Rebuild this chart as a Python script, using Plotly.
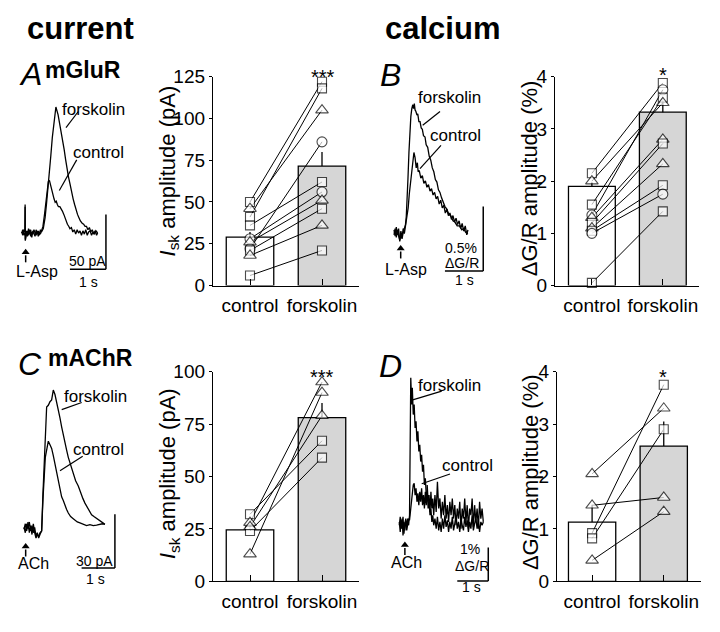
import plotly.graph_objects as go

W, H = 720, 632
FONT = "Liberation Sans, Arial, Helvetica, sans-serif"

# ------------------------------------------------------------------ data
CATS = ["control", "forskolin"]

# Panel A bar chart: mGluR, I_sk amplitude (pA)
A_BAR = [29, 71.5]
A_ERR = [3, 8.5]
A_CTRL = [50, 41, 46, 22, 28, 36, 26, 21, 18, 6]
A_FSK = [122, 118, 105, 86, 56, 62, 51, 46, 36, 21]
A_SYM = ["square", "square", "triangle-up", "circle", "circle",
         "square", "triangle-up", "square", "triangle-up", "square"]

# Panel B bar chart: mGluR, dG/R amplitude (%)
B_BAR = [1.9, 3.32]
B_ERR = [0.08, 0.25]
B_CTRL = [2.15, 1.35, 1.55, 2.0, 1.3, 1.2, 1.1, 1.05, 1.0, 0.05]
B_FSK = [3.88, 3.75, 3.6, 3.5, 2.8, 2.72, 2.33, 1.92, 1.75, 1.42]
B_SYM = ["square", "circle", "square", "triangle-up", "triangle-up",
         "square", "triangle-up", "square", "circle", "square"]

# Panel C bar chart: mAChR, I_sk amplitude (pA)
C_BAR = [24.5, 78]
C_ERR = [3, 7]
C_CTRL = [32, 24, 28, 26, 13]
C_FSK = [67, 59, 95, 79, 90]
C_SYM = ["square", "square", "triangle-up", "triangle-up", "triangle-up"]

# Panel D bar chart: mAChR, dG/R amplitude (%)
D_BAR = [1.13, 2.58]
D_ERR = [0.33, 0.47]
D_CTRL = [2.05, 1.45, 0.92, 0.82, 0.4]
D_FSK = [3.3, 1.6, 3.75, 2.9, 1.33]
D_SYM = ["triangle-up", "triangle-up", "square", "square", "triangle-up"]

# Example traces (time in s, current in pA or dG/R in %)
A_T_FSK = [0, .03, .06, .09, .095, .10, .13, .16, .19, .22, .25, .28, .31, .34, .37, .40,
           .43, .46, .49, .52, .55, .60, .65, .69, .73, .77, .81, .85, .90, .95, 1.01,
           1.05, 1.09, 1.13, 1.18, 1.22, 1.26, 1.30, 1.34, 1.38, 1.43, 1.47, 1.51, 1.55,
           1.59, 1.63, 1.68, 1.72, 1.76, 1.80, 1.84, 1.88, 1.92, 1.96, 2.00, 2.04, 2.08, 2.11]
A_I_FSK = [0, 3, -2, 0, 26, -6, 2, -3, 4, -1, 3, -4, 2, 0, -3, 3,
           -1, 2, -2, 3, 1, 4, 14, 27, 40, 56, 71, 87, 102, 115, 108,
           101, 93, 85, 76, 67, 58, 51, 45, 38, 31, 26, 21, 17,
           14, 11, 9, 8, 6, 6, 3, 5, 1, 3, -1, 2, -2, 0]
A_T_CTL = [0, .03, .06, .09, .095, .10, .13, .16, .19, .22, .25, .28, .31, .34, .37, .40,
           .43, .46, .49, .52, .55, .59, .63, .67, .71, .74, .77, .80, .83, .87, .90,
           .93, .96, .99, 1.02, 1.06, 1.10, 1.13, 1.17, 1.20, 1.24, 1.27, 1.31, 1.34,
           1.38, 1.42, 1.46, 1.50, 1.54, 1.58, 1.62, 1.66, 1.70, 1.74, 1.78, 1.82, 1.86,
           1.90, 1.94, 1.98, 2.02, 2.06, 2.11]
A_I_CTL = [1, -2, 3, 1, 24, -7, -1, 2, -2, 3, -3, 1, -1, 3, 0, -2,
           2, -3, 1, -1, 2, 6, 16, 28, 40, 47, 48, 44, 38, 33, 31,
           28, 29, 26, 24, 24, 22, 20, 17, 14, 11, 8, 6, 4,
           5, 1, 3, -1, 3, 0, 2, -2, 2, -1, 3, -2, 1,
           2, -2, 1, -1, 2, 0]

B_T_FSK = [0, .03, .06, .09, .12, .15, .18, .21, .24, .27, .30, .32, .34, .365, .39,
           .415, .44, .465, .49, .51, .53, .55, .57, .60, .62, .65, .68, .71, .74, .77,
           .81, .84, .88, .92, .96, 1.00, 1.04, 1.08, 1.12, 1.16, 1.20, 1.24, 1.28, 1.33,
           1.38, 1.43, 1.48, 1.54, 1.59, 1.65, 1.71, 1.77, 1.82, 1.87, 1.93]
B_V_FSK = [.02, -.03, .04, -.02, .03, -.07, -.02, -.05, 0, .03, .06, .12, .23, .42, .62,
           .78, .90, .96, .99, .96, 1.0, .95, .94, .91, .92, .86, .86, .81, .80, .75,
           .74, .68, .66, .59, .56, .50, .47, .41, .39, .33, .31, .27, .24, .20,
           .18, .14, .13, .09, .08, .05, .05, .02, .03, 0, -.01]
B_T_CTL = [0, .03, .06, .09, .12, .15, .18, .21, .24, .27, .30, .33, .37, .40, .44,
           .47, .50, .52, .55, .58, .61, .63, .66, .70, .74, .78, .82, .86, .90, .94,
           .98, 1.02, 1.06, 1.10, 1.14, 1.18, 1.22, 1.26, 1.30, 1.34, 1.38, 1.42, 1.46,
           1.50, 1.54, 1.58, 1.62, 1.66, 1.70, 1.74, 1.78, 1.82, 1.86, 1.90, 1.93]
B_V_CTL = [-.02, .03, -.04, .02, -.03, -.06, .01, -.04, .03, -.01, .05, .10, .19, .30, .41,
           .50, .53, .62, .58, .50, .54, .47, .48, .42, .44, .38, .40, .35, .37, .32,
           .34, .29, .31, .26, .28, .22, .25, .19, .21, .15, .18, .13, .15,
           .10, .13, .08, .11, .06, .09, .03, .07, .01, .05, -.02, .02]

C_T_FSK = [0, .04, .08, .12, .16, .20, .24, .28, .32, .36, .40, .44, .48, .53, .57,
           .60, .64, .68, .73, .78, .83, .88, .93, .98, 1.03, 1.08, 1.13, 1.18, 1.23,
           1.28, 1.33, 1.38, 1.43, 1.48, 1.55, 1.63, 1.70, 1.77, 1.83, 1.90, 1.97, 2.03,
           2.10, 2.17, 2.23, 2.30, 2.37, 2.43]
C_I_FSK = [0, 3, -1, 4, -2, 2, -3, 3, -2, -5, -3, -4, -2, -1, 20,
           36, 55, 68, 69, 71, 72, 77.5, 75, 71, 67, 62, 57, 52, 48,
           44, 40, 37, 34, 31, 27, 24, 20, 17, 14.5, 12, 10, 8,
           7, 6, 5, 4, 3.5, 2.7]
C_T_CTL = [0, .04, .08, .12, .16, .20, .24, .28, .32, .36, .40, .44, .48, .53, .57,
           .60, .64, .68, .73, .78, .83, .88, .93, .98, 1.03, 1.08, 1.13, 1.18, 1.23,
           1.28, 1.33, 1.40, 1.47, 1.53, 1.60, 1.68, 1.78, 1.88, 1.98, 2.08, 2.18, 2.28,
           2.35, 2.43]
C_I_CTL = [1, -2, 3, 0, 4, -1, 2, -2, 1, -4, -2, -5, -3, -1, 17,
           31, 40, 44, 49, 47, 45, 41, 36, 31, 26, 22, 18, 16, 13,
           11, 9, 7, 6, 5, 4, 3.5, 2.7, 2, 2.5, 2, 2.2, 2.5,
           3, 2.7]

D_T = [0, .03, .06, .09, .12, .15, .18, .21, .24, .27, .30, .33, .37, .40, .42, .45, .48,
       .51, .54, .57, .60, .63, .66, .69, .72, .75, .78, .81, .84, .87, .90, .93,
       .96, .99, 1.02, 1.05, 1.08, 1.11, 1.15, 1.19, 1.23, 1.27, 1.31, 1.35, 1.39, 1.43,
       1.47, 1.51, 1.55, 1.59, 1.63, 1.67, 1.71, 1.75, 1.79, 1.83, 1.87, 1.91, 1.95,
       1.99, 2.03, 2.07, 2.11, 2.15, 2.19, 2.23, 2.27, 2.31, 2.35, 2.39, 2.43, 2.47,
       2.51, 2.55, 2.59, 2.63, 2.67, 2.71]
D_V_FSK = [0.0, 0.25, -0.1, 0.2, -0.3, 0.1, -0.15, 0.15, -0.05, 0.2, 0.0, 0.3,
           4.4, 3.6, 4.1, 3.3, 3.6, 2.9, 3.1, 2.5, 2.8, 2.2, 2.4, 1.9, 2.1, 1.6, 1.8,
           1.2, 1.4, 0.9, 1.0, 0.5, 0.7, 0.3, 0.5, 0.1, 0.3, 0.0, 0.2, -0.1, 0.25, -0.15,
           0.1, -0.2, 0.2, -0.1, 0.3, -0.05, 0.15, -0.2, 0.1, -0.1, 0.25, -0.15, 0.05,
           0.3, -0.1, 0.1, -0.2, 0.2, 0.0, -0.15, 0.25, -0.05, 0.15, -0.2, 0.1,
           -0.1, 0.3, -0.15, 0.05, 0.2, -0.1, 0.15, -0.2, 0.1, 0.0, 0.1]
D_V_CTL = [0.1, -0.2, 0.15, -0.1, 0.25, -0.25, 0.05, 0.2, -0.15, 0.1, 0.2, 0.15,
           0.5, 0.9, 1.05, 1.2, 1.25, 0.9, 1.1, 0.7, 0.95, 0.6, 1.0, 0.7, 1.1, 0.6, 0.9,
           0.5, 1.0, 0.6, 1.2, 0.7, 0.9, 0.4, 1.0, 0.5, 0.8, 0.3, 0.9, 0.4, 1.3, 0.5,
           0.8, 0.2, 0.7, 0.3, 0.9, 0.2, 0.6, 0.1, 0.7, 0.3, 0.8, 0.2, 0.6,
           0.0, 0.5, 0.2, 0.7, -0.1, 0.5, 0.2, 0.8, 0.1, 0.6, -0.1, 0.5,
           0.3, 0.8, -0.05, 0.6, 0.1, 0.5, -0.1, 0.7, 0.2, 0.5, 0.1]

# ------------------------------------------------------------------ helpers
def fx(px):
    return px / W


def fy(py):
    return 1 - py / H


SYM_SIZE = {"square": 9, "circle": 10, "triangle-up": 11}

fig = go.Figure()
layout = dict(width=W, height=H, margin=dict(l=0, r=0, t=0, b=0, pad=0),
              paper_bgcolor="white", plot_bgcolor="rgba(0,0,0,0)",
              showlegend=False, font=dict(family=FONT, color="black"))
annotations = []
shapes = []

# ---------------- bar panels
bar_panels = [
    ("", A_BAR, A_ERR, A_CTRL, A_FSK, A_SYM, (213, 359), (69, 285), (-0.514, 1.514), (0, 125), [0, 25, 50, 75, 100, 125]),
    ("2", B_BAR, B_ERR, B_CTRL, B_FSK, B_SYM, (555, 699), (69, 285), (-0.52, 1.51), (0, 4), [0, 1, 2, 3, 4]),
    ("3", C_BAR, C_ERR, C_CTRL, C_FSK, C_SYM, (213, 359), (374, 591), (-0.514, 1.514), (0, 100), [0, 25, 50, 75, 100]),
    ("4", D_BAR, D_ERR, D_CTRL, D_FSK, D_SYM, (557, 701), (374, 591), (-0.49, 1.52), (0, 4), [0, 1, 2, 3, 4]),
]

for aid, bars, err, ctrl, fsk, sym, xb, yb, xr, yr, tv in bar_panels:
    xa, ya = "x" + aid, "y" + aid
    fig.add_trace(go.Bar(
        x=CATS, y=bars, width=0.66, xaxis=xa, yaxis=ya,
        marker=dict(color=["white", "#d6d6d6"], line=dict(color="black", width=1.3)),
        error_y=dict(type="data", array=err, arrayminus=[0, 0], symmetric=False,
                     width=0, thickness=1.3, color="black"),
        hoverinfo="skip"))
    for c, f in zip(ctrl, fsk):
        fig.add_trace(go.Scatter(x=CATS, y=[c, f], mode="lines", xaxis=xa, yaxis=ya,
                                 line=dict(color="black", width=1), hoverinfo="skip",
                                 cliponaxis=False))
    n = len(ctrl)
    fig.add_trace(go.Scatter(
        x=[CATS[0]] * n + [CATS[1]] * n, y=list(ctrl) + list(fsk), mode="markers",
        xaxis=xa, yaxis=ya, cliponaxis=False, hoverinfo="skip",
        marker=dict(symbol=sym + sym, size=[SYM_SIZE[s] for s in sym + sym],
                    color="white", line=dict(color="black", width=1.1))))
    layout["xaxis" + aid] = dict(domain=[fx(xb[0]), fx(xb[1])], anchor=ya, type="category",
                                 range=list(xr), showline=True, linecolor="black", linewidth=1.3,
                                 ticks="inside", ticklen=6, tickwidth=1.3, tickcolor="black",
                                 tickfont=dict(size=19, family=FONT, color="black"),
                                 showgrid=False, zeroline=False, fixedrange=True,
                                 ticklabelstandoff=3)
    layout["yaxis" + aid] = dict(domain=[fy(yb[1]), fy(yb[0])], anchor=xa, range=list(yr),
                                 tickvals=tv, showline=True, linecolor="black", linewidth=1.3,
                                 ticks="outside", ticklen=3, tickwidth=1.3, tickcolor="black",
                                 tickfont=dict(size=19, family=FONT, color="black"),
                                 showgrid=False, zeroline=False, fixedrange=True)

# y-axis titles
for txt, cx, cy in [("<i>I</i><sub>sk</sub> amplitude (pA)", 169, 167),
                    ("ΔG/R amplitude (%)", 529, 174),
                    ("<i>I</i><sub>sk</sub> amplitude (pA)", 169, 480),
                    ("ΔG/R amplitude (%)", 530, 478)]:
    annotations.append(dict(text=txt, x=fx(cx), y=fy(cy), xref="paper", yref="paper",
                            textangle=-90, showarrow=False, xanchor="center", yanchor="middle",
                            font=dict(size=22, family=FONT, color="black")))

# significance stars
for txt, cx, cy in [("***", 323, 69), ("*", 663, 67), ("***", 322, 380), ("*", 663, 380)]:
    annotations.append(dict(text=txt, x=fx(cx), y=fy(cy), xref="paper", yref="paper",
                            showarrow=False, xanchor="center", yanchor="middle",
                            font=dict(size=20, family=FONT, color="black")))

# ---------------- trace panels
trace_panels = [
    ("5", (21.7, 230.7), (36, 1.134), (5, 130, 55, 300),
     [(A_T_FSK, A_I_FSK), (A_T_CTL, A_I_CTL)]),
    ("6", (394, 230), (38.3, 133.3), (375, 500, 55, 300),
     [(B_T_FSK, B_V_FSK), (B_T_CTL, B_V_CTL)]),
    ("7", (24, 537), (33.3, 1.857), (5, 130, 355, 610),
     [(C_T_FSK, C_I_FSK), (C_T_CTL, C_I_CTL)]),
    ("8", (399.3, 533), (31, 34.7), (375, 500, 355, 610),
     [(D_T, D_V_FSK), (D_T, D_V_CTL)]),
]
for aid, (ox, oy), (sx, sy), (l, r, t, b), trs in trace_panels:
    xa, ya = "x" + aid, "y" + aid
    for tt, vv in trs:
        fig.add_trace(go.Scatter(x=tt, y=vv, mode="lines", xaxis=xa, yaxis=ya,
                                 line=dict(color="black", width=1.3), hoverinfo="skip"))
    layout["xaxis" + aid] = dict(domain=[fx(l), fx(r)], anchor=ya, visible=False,
                                 range=[(l - ox) / sx, (r - ox) / sx], fixedrange=True)
    layout["yaxis" + aid] = dict(domain=[fy(b), fy(t)], anchor=xa, visible=False,
                                 range=[(oy - b) / sy, (oy - t) / sy], fixedrange=True)

# scale bars (data units of each trace panel): axis id, corner (t, v), vertical length; horizontal = 1 s
scale_bars = [("5", 2.34, -33, 50), ("6", 2.33, -0.30, 0.5), ("7", 2.73, -21.7, 30), ("8", 2.87, -1.66, 1)]
for aid, tc, vc, vlen in scale_bars:
    shapes.append(dict(type="line", xref="x" + aid, yref="y" + aid, x0=tc, x1=tc, y0=vc, y1=vc + vlen,
                       line=dict(color="black", width=1.5)))
    shapes.append(dict(type="line", xref="x" + aid, yref="y" + aid, x0=tc - 1, x1=tc, y0=vc, y1=vc,
                       line=dict(color="black", width=1.5)))

# stimulus arrows: axis id, time, tip value
for aid, ts, vs in [("5", 0.11, -17.6), ("6", 0.175, -0.125), ("7", 0.05, -9.7), ("8", 0.18, -0.585)]:
    shapes.append(dict(type="line", xref="x" + aid, yref="y" + aid, ysizemode="pixel",
                       yanchor=vs, x0=ts, x1=ts, y0=-3, y1=-10,
                       line=dict(color="black", width=1.5)))
    fig.add_trace(go.Scatter(x=[ts], y=[vs], mode="markers", xaxis="x" + aid, yaxis="y" + aid,
                             cliponaxis=False, hoverinfo="skip",
                             marker=dict(symbol="triangle-up", size=7, color="black",
                                         line=dict(width=0))))

# pointer lines (px)
for x0, y0, x1, y1 in [(78.3, 105, 66, 121.7), (76.7, 155, 59.3, 186.7),
                       (440, 105, 422.7, 119.3), (441, 140, 420, 164),
                       (81.7, 406, 61.7, 413.3), (82.7, 461.7, 60, 476.7),
                       (441.7, 394.3, 412.7, 403.3), (450, 480, 421.7, 490)]:
    shapes.append(dict(type="line", xref="paper", yref="paper", x0=fx(x0), y0=fy(y0),
                       x1=fx(x1), y1=fy(y1), line=dict(color="black", width=1.2)))

# small texts (px centres)
small_texts = [
    ("forskolin", 93.5, 103.3, 17), ("control", 98.3, 147.3, 17),
    ("forskolin", 449, 90, 17), ("control", 455, 130, 17),
    ("forskolin", 95.8, 400, 17), ("control", 98.8, 455, 17),
    ("forskolin", 449, 388.3, 17), ("control", 467, 471, 17),
    ("L-Asp", 36.7, 270, 16), ("L-Asp", 405.8, 268, 16),
    ("ACh", 33.3, 573, 16), ("ACh", 406.7, 571.7, 16),
    ("50 pA", 87.7, 260, 14), ("1 s", 88, 281, 14),
    ("0.5%", 461, 246, 14), ("ΔG/R", 461.7, 262, 14), ("1 s", 464, 279, 14),
    ("30 pA", 94, 570, 14), ("1 s", 95, 589, 14),
    ("1%", 470, 558, 14), ("ΔG/R", 471.7, 575, 14), ("1 s", 471.7, 597, 14),
]
for txt, cx, cy, fs in small_texts:
    annotations.append(dict(text=txt, x=fx(cx), y=fy(cy), xref="paper", yref="paper",
                            showarrow=False, xanchor="center", yanchor="middle",
                            font=dict(size=fs, family=FONT, color="black")))

# panel letters & headings
for txt, cx, cy, fs in [("<i>A</i>", 30, 66, 32), ("<i>B</i>", 391, 67, 32),
                        ("<i>C</i>", 30, 366, 32), ("<i>D</i>", 391, 368, 32),
                        ("<b>mGluR</b>", 83, 62, 23), ("<b>mAChR</b>", 90, 360, 23),
                        ("<b>current</b>", 80, 19, 31), ("<b>calcium</b>", 442, 19, 31)]:
    annotations.append(dict(text=txt, x=fx(cx), y=fy(cy), xref="paper", yref="paper",
                            showarrow=False, xanchor="center", yanchor="middle",
                            font=dict(size=fs, family=FONT, color="black")))

layout["annotations"] = annotations
layout["shapes"] = shapes
fig.update_layout(**layout)
fig.write_html("out.html", config={"displayModeBar": False},
               post_script="document.body.style.margin='0';")
